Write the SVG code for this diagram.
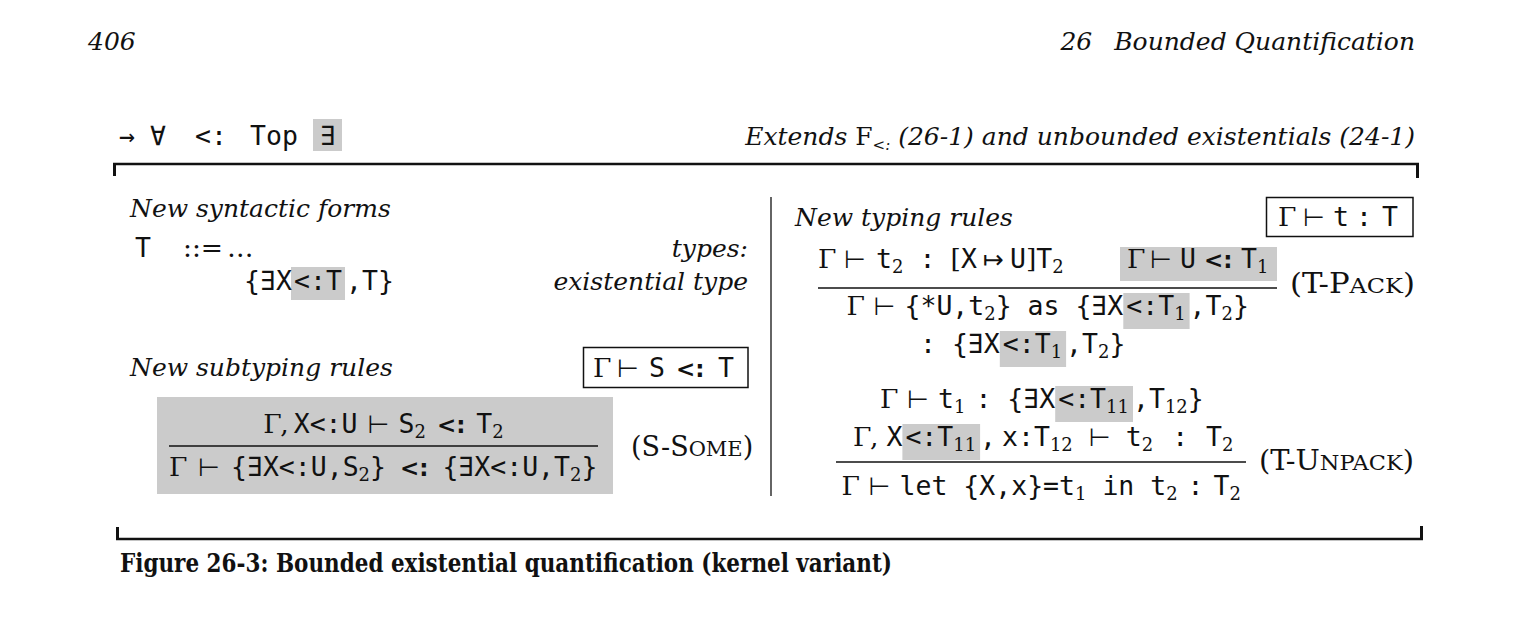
<svg xmlns="http://www.w3.org/2000/svg" width="1531" height="619" viewBox="0 0 1531 619">
<style>
text { fill:#111111; }
.m { font-family:"DejaVu Sans Mono",monospace; font-size:26.5px; }
.g { font-family:"DejaVu Serif",serif; font-size:26.5px; }
.s { font-family:"DejaVu Serif",serif; font-size:18px; }
.r { font-family:"DejaVu Sans",sans-serif; font-size:25px; }
.b { font-family:"DejaVu Sans",sans-serif; font-size:23px; font-weight:bold; }
.i { font-family:"DejaVu Serif",serif; font-style:italic; font-size:25px; }
.lab { font-family:"DejaVu Serif",serif; font-size:27px; }
.sc { font-size:21px; }
.cap { font-family:"DejaVu Serif",serif; font-weight:bold; font-size:26px; }
.hl { fill:#cbcbcb; }
.rule { stroke:#111111; stroke-width:2.5; fill:none; }
.tick { stroke:#111111; stroke-width:3; fill:none; }
.frac { stroke:#111111; stroke-width:1.4; fill:none; }
.box { fill:none; stroke:#111111; stroke-width:1.5; }
</style>
<rect width="1531" height="619" fill="#ffffff"/>

<g id="running-head">
<text class="i" x="88" y="50" font-size="26">406</text>
<text class="i" x="1415" y="50" text-anchor="end" font-size="26"><tspan>26</tspan><tspan dx="22">Bounded Quantification</tspan></text>
</g>

<g id="header">
<rect class="hl" x="313" y="119" width="29" height="32"/>
<text class="m" y="145"><tspan x="119">→</tspan><tspan x="150">∀</tspan><tspan x="195">&lt;:</tspan><tspan x="250">Top</tspan><tspan x="320">∃</tspan></text>
<text class="i" x="1415" y="145" text-anchor="end" font-size="26.3">Extends <tspan font-style="normal">F</tspan><tspan dy="5" font-size="15">&lt;:</tspan><tspan dy="-5"> (26-1) and unbounded existentials (24-1)</tspan></text>
</g>

<g id="frame">
<path class="rule" d="M113,164 H1419"/>
<path class="tick" d="M114.5,163 V176"/>
<path class="tick" d="M1417.5,163 V178"/>
<path class="rule" d="M116,539 H1423"/>
<path class="tick" d="M117.5,527 V540"/>
<path class="tick" d="M1421.5,526 V540"/>
<path d="M771,197 V496" stroke="#111111" stroke-width="1.3"/>
</g>

<g id="syntactic-forms">
<text class="i" x="130" y="217">New syntactic forms</text>
<text class="m" x="135" y="257">T</text>
<text class="g" x="183" y="257" font-size="18">::=</text>
<text class="g" x="227" y="257">…</text>
<text class="i" x="748" y="257" text-anchor="end">types:</text>
<rect class="hl" x="291" y="267" width="54" height="33"/>
<text class="m" y="290"><tspan x="244">{∃X</tspan><tspan x="294">&lt;:T</tspan><tspan x="346">,T}</tspan></text>
<text class="i" x="748" y="290" text-anchor="end">existential type</text>
</g>

<g id="subtyping-rules">
<text class="i" x="130" y="376">New subtyping rules</text>
<rect class="box" x="583.5" y="347.5" width="164.5" height="40"/>
<text y="377"><tspan class="g" x="593">Γ</tspan><tspan class="r" x="617">⊢</tspan><tspan class="m" x="649">S</tspan><tspan class="b" x="676">&lt;:</tspan><tspan class="m" x="718">T</tspan></text>
</g>

<g id="s-some">
<rect class="hl" x="157" y="397" width="456" height="97"/>
<text y="433"><tspan class="g" x="263.3">Γ</tspan><tspan class="g" x="280.3">,</tspan><tspan class="m" x="293.7">X&lt;:U</tspan><tspan class="r" x="367.5">⊢</tspan><tspan class="m" x="398.5">S</tspan><tspan class="s" x="414.5" y="438">2</tspan><tspan class="b" x="436.9" y="433">&lt;:</tspan><tspan class="m" x="476.3">T</tspan><tspan class="s" x="492.3" y="438">2</tspan></text>
<path class="frac" d="M169,446 H598"/>
<text y="476"><tspan class="g" x="169">Γ</tspan><tspan class="r" x="198">⊢</tspan><tspan class="m" x="231">{∃X&lt;:U,S</tspan><tspan class="s" x="358.6" y="481">2</tspan><tspan class="m" x="370" y="476">}</tspan><tspan class="b" x="400">&lt;:</tspan><tspan class="m" x="442.4">{∃X&lt;:U,T</tspan><tspan class="s" x="570" y="481">2</tspan><tspan class="m" x="581.4" y="476">}</tspan></text>
<text class="lab" x="631" y="456">(S-S<tspan class="sc">OME</tspan>)</text>
</g>

<g id="typing-rules">
<text class="i" x="795" y="226">New typing rules</text>
<rect class="box" x="1266.5" y="197.5" width="146.5" height="39"/>
<text y="226"><tspan class="g" x="1278">Γ</tspan><tspan class="r" x="1303">⊢</tspan><tspan class="m" x="1333">t</tspan><tspan class="m" x="1356">:</tspan><tspan class="m" x="1382">T</tspan></text>
</g>

<g id="t-pack">
<text y="268"><tspan class="g" x="818">Γ</tspan><tspan class="r" x="844">⊢</tspan><tspan class="m" x="876">t</tspan><tspan class="s" x="892" y="273">2</tspan><tspan class="m" x="919.5" y="268">:</tspan><tspan class="g" x="950.5">[</tspan><tspan class="m" x="961">X</tspan><tspan class="r" x="983">↦</tspan><tspan class="m" x="1010">U</tspan><tspan class="g" x="1026">]</tspan><tspan class="m" x="1036.3">T</tspan><tspan class="s" x="1052.3" y="273">2</tspan></text>
<rect class="hl" x="1120" y="247" width="157" height="34"/>
<text y="268"><tspan class="g" x="1127">Γ</tspan><tspan class="r" x="1150">⊢</tspan><tspan class="m" x="1180">U</tspan><tspan class="b" x="1204">&lt;:</tspan><tspan class="m" x="1241">T</tspan><tspan class="s" x="1257" y="273">1</tspan></text>
<path class="frac" d="M818,288 H1277"/>
<rect class="hl" x="1123.3" y="293" width="66.3" height="36"/>
<text y="315"><tspan class="g" x="846.5">Γ</tspan><tspan class="r" x="873.5">⊢</tspan><tspan class="m" x="904.5">{*U,t</tspan><tspan class="s" x="984.3" y="320">2</tspan><tspan class="m" x="995.7" y="315">}</tspan><tspan class="m" x="1027.6">as</tspan><tspan class="m" x="1075.4">{∃X</tspan><tspan class="m" x="1126.3">&lt;:T</tspan><tspan class="s" x="1174.2" y="320">1</tspan><tspan class="m" x="1189.6" y="315">,T</tspan><tspan class="s" x="1221.5" y="320">2</tspan><tspan class="m" x="1233" y="315">}</tspan></text>
<rect class="hl" x="999.8" y="331" width="66.3" height="36"/>
<text y="353"><tspan class="m" x="920">:</tspan><tspan class="m" x="951.9">{∃X</tspan><tspan class="m" x="1002.8">&lt;:T</tspan><tspan class="s" x="1050.7" y="358">1</tspan><tspan class="m" x="1066.1" y="353">,T</tspan><tspan class="s" x="1098" y="358">2</tspan><tspan class="m" x="1109.5" y="353">}</tspan></text>
<text class="lab" x="1290" y="293" textLength="125" lengthAdjust="spacingAndGlyphs">(T-P<tspan class="sc">ACK</tspan>)</text>
</g>

<g id="t-unpack">
<rect class="hl" x="1055.2" y="386" width="77.8" height="36"/>
<text y="408"><tspan class="g" x="880">Γ</tspan><tspan class="r" x="907">⊢</tspan><tspan class="m" x="938">t</tspan><tspan class="s" x="954" y="413">1</tspan><tspan class="m" x="975.4" y="408">:</tspan><tspan class="m" x="1007.3">{∃X</tspan><tspan class="m" x="1058.2">&lt;:T</tspan><tspan class="s" x="1106" y="413">11</tspan><tspan class="m" x="1133" y="408">,T</tspan><tspan class="s" x="1164.9" y="413">12</tspan><tspan class="m" x="1187.8" y="408">}</tspan></text>
<rect class="hl" x="902.4" y="424" width="77.7" height="36"/>
<text y="446"><tspan class="g" x="853">Γ</tspan><tspan class="g" x="870">,</tspan><tspan class="m" x="886.4">X</tspan><tspan class="m" x="905.4">&lt;:T</tspan><tspan class="s" x="953.2" y="451">11</tspan><tspan class="m" x="980.1" y="446">,</tspan><tspan class="m" x="1002">x:T</tspan><tspan class="s" x="1049.9" y="451">12</tspan><tspan class="r" x="1088.8" y="446">⊢</tspan><tspan class="m" x="1125.8">t</tspan><tspan class="s" x="1141.7" y="451">2</tspan><tspan class="m" x="1172.2" y="446">:</tspan><tspan class="m" x="1206.1">T</tspan><tspan class="s" x="1222.1" y="451">2</tspan></text>
<path class="frac" d="M836,462 H1246"/>
<text y="495"><tspan class="g" x="841.5">Γ</tspan><tspan class="r" x="868.5">⊢</tspan><tspan class="m" x="899.5">let {X,x}=t</tspan><tspan class="s" x="1075" y="500">1</tspan><tspan class="m" x="1102.4" y="495">in t</tspan><tspan class="s" x="1166.2" y="500">2</tspan><tspan class="m" x="1187.6" y="495">:</tspan><tspan class="m" x="1213.6">T</tspan><tspan class="s" x="1229.5" y="500">2</tspan></text>
<text class="lab" x="1259" y="470" textLength="155" lengthAdjust="spacingAndGlyphs">(T-U<tspan class="sc">NPACK</tspan>)</text>
</g>

<g id="caption">
<text class="cap" x="120" y="572" textLength="772" lengthAdjust="spacingAndGlyphs">Figure 26-3: Bounded existential quantification (kernel variant)</text>
</g>
</svg>
